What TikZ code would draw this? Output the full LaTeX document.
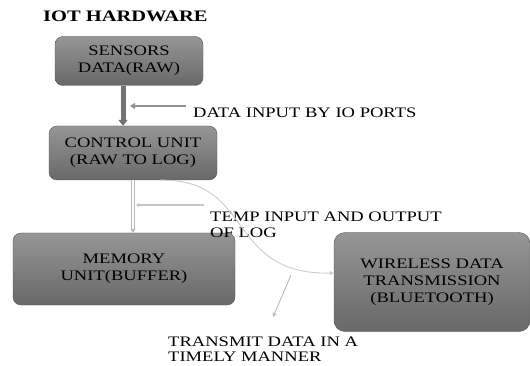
\documentclass[tikz,border=0pt]{standalone}
\usepackage{fontspec}
\setmainfont{Liberation Serif}[FakeStretch=1.28]
\usepackage{xcolor}
\usepackage{tikz}
\usetikzlibrary{positioning,arrows.meta}

\definecolor{boxtop}{RGB}{150,150,150}
\definecolor{boxbot}{RGB}{104,104,104}
\definecolor{boxline}{RGB}{85,85,85}

\begin{document}
\begin{tikzpicture}[
  x=1pt, y=-1pt,
  >=Stealth,
  st/.style={draw=boxline, rounded corners=8pt, top color=boxtop, bottom color=boxbot,
             align=center, font=\fontsize{14.5}{17}\selectfont, inner sep=0pt},
  lb/.style={font=\fontsize{14.5}{15.5}\selectfont, align=left, anchor=west, inner sep=0pt},
  thin/.style={line width=0.9pt, draw=gray!55}]

  \useasboundingbox (0,0) rectangle (530,366);

  \node[font=\bfseries\fontsize{16}{18}\selectfont, anchor=west, inner sep=0pt]
    (ttl) at (43,16) {IOT HARDWARE};

  \node[st, minimum width=148, minimum height=49] (sen) at (129,61) {SENSORS\\DATA(RAW)};
  \node[st, minimum width=168, minimum height=54] (ctl) at (133,153) {CONTROL UNIT\\(RAW TO LOG)};
  \node[st, minimum width=222, minimum height=72] (mem) at (124,269) {MEMORY\\UNIT(BUFFER)};
  \node[st, rounded corners=11pt, minimum width=196, minimum height=99] (wls) at (432,282)
    {WIRELESS DATA\\TRANSMISSION\\(BLUETOOTH)};

  \node[lb] (inp) at (193,113) {DATA INPUT BY IO PORTS};
  \node[lb] (tmp) at (210,225) {TEMP INPUT AND OUTPUT\\OF LOG};
  \node[lb] (snd) at (168,349) {TRANSMIT DATA IN A\\TIMELY MANNER};

  % sensors -> control unit
  \draw[-{Triangle[width=9pt,length=6pt]}, line width=5pt, draw=gray!90!black]
    (sen.south -| 123,0) -- (ctl.north -| 123,0);
  \coordinate (inA) at (186,106);
  \coordinate (inB) at (130,106);
  \draw[-{Triangle[width=6pt,length=5pt]}, line width=2.5pt, draw=gray!85] (inA) -- (inB);

  % control unit -> memory
  \draw[-{Triangle[width=5pt,length=4pt]}, draw=gray!55, double=white, double distance=1.6pt,
        line width=0.8pt] (ctl.south -| 133,0) -- (mem.north -| 133,0);
  \coordinate (tmA) at (204,205);
  \coordinate (tmB) at (136,205);
  \draw[-{Triangle[width=4pt,length=3pt]}, line width=1.5pt, draw=gray!45] (tmA) -- (tmB);

  % control unit -> wireless
  \draw[thin, draw=gray!40, -{Triangle[width=4pt,length=4pt]}]
    (ctl.south -| 160,0) .. controls (255,178) and (225,275) .. (wls.west |- 0,273);
  \coordinate (txA) at (291,275);
  \coordinate (txB) at (273,317);
  \draw[thin, -{Triangle[width=4pt,length=4pt]}] (txA) -- (txB);
\end{tikzpicture}
\end{document}
